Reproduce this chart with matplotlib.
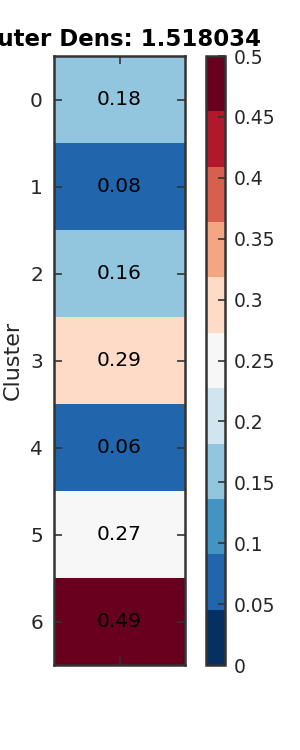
import numpy as np
import matplotlib
matplotlib.use("Agg")
import matplotlib.pyplot as plt

# datos del cluster
clusters = [0, 1, 2, 3, 4, 5, 6]
densidades = [0.18, 0.08, 0.16, 0.29, 0.06, 0.27, 0.49]
titulo = "Outer Dens: 1.518034"
cbar_ticks = [0, 0.05, 0.1, 0.15, 0.2, 0.25, 0.3, 0.35, 0.4, 0.45, 0.5]
cbar_labels = ["0", "0.05", "0.1", "0.15", "0.2", "0.25", "0.3", "0.35", "0.4", "0.45", "0.5"]

color_texto = "#262626"
color_borde = "#333333"

fig = plt.figure(figsize=(3, 7.5), dpi=100)
ax = fig.add_axes([0.18, 0.1133, 0.437, 0.812])
cax = fig.add_axes([0.687, 0.1133, 0.063, 0.812])

cmap = plt.get_cmap("RdBu_r", 11)
matriz = np.array(densidades).reshape(-1, 1)
mesh = ax.pcolormesh(matriz, cmap=cmap, vmin=0, vmax=0.5)
ax.set_xlim(0, 1)
ax.set_ylim(len(clusters), 0)

for i, d in enumerate(densidades):
    ax.text(0.5, i + 0.5, "%.2f" % d, ha="center", va="center", fontsize=14.5, color="black")

ax.set_yticks(np.arange(len(clusters)) + 0.5)
ax.set_yticklabels([str(c) for c in clusters])
ax.set_xticks([0.5])
ax.set_xticklabels([])
ax.tick_params(axis="both", direction="in", length=6, width=1.2, color=color_borde,
               labelsize=14.5, labelcolor=color_texto, left=True, right=True, top=True, bottom=True, pad=8)
ax.set_ylabel("Cluster", fontsize=16, color=color_texto, labelpad=5)
ax.set_title(titulo, fontsize=16.5, fontweight="bold", pad=7)
for s in ax.spines.values():
    s.set_color(color_borde)
    s.set_linewidth(1.8)

cb = fig.colorbar(mesh, cax=cax, ticks=cbar_ticks)
cb.ax.set_yticklabels(cbar_labels)
cb.ax.tick_params(direction="in", length=5, width=1.2, color=color_borde, labelsize=13.5,
                  labelcolor=color_texto, pad=6)
cb.outline.set_edgecolor(color_borde)
cb.outline.set_linewidth(1.8)

fig.savefig("out.png", dpi=100)
